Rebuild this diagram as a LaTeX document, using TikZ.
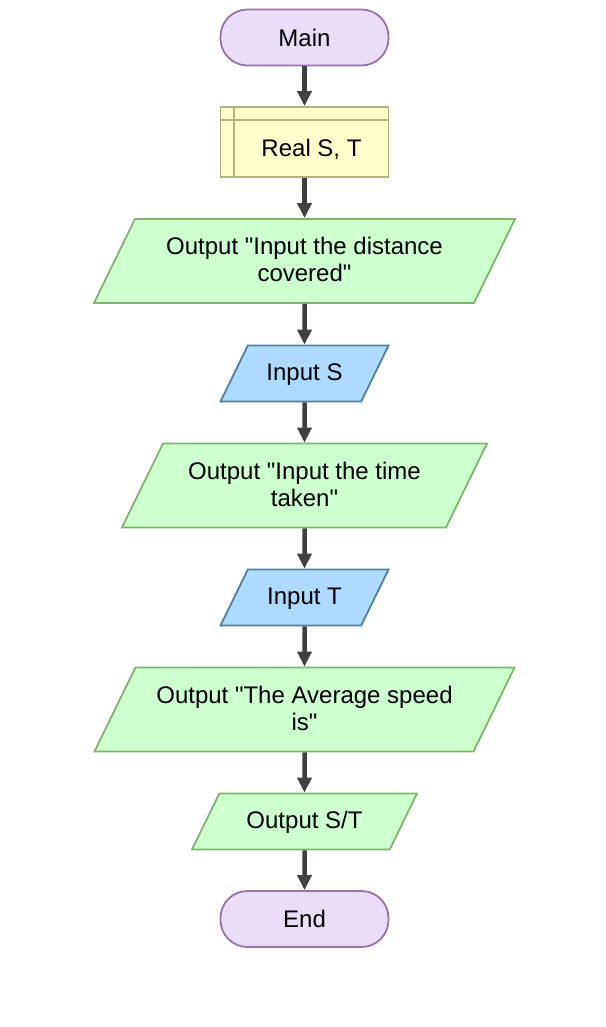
\documentclass[tikz,border=0pt]{standalone}
\usepackage{fontspec}
\setmainfont{Liberation Sans}[Ligatures=TeXOff]
\usetikzlibrary{arrows.meta,shapes.geometric}
\definecolor{termdraw}{RGB}{150,115,166}
\definecolor{termfill}{RGB}{234,221,250}
\definecolor{decldraw}{RGB}{178,178,128}
\definecolor{declfill}{RGB}{255,255,204}
\definecolor{outdraw}{RGB}{130,179,110}
\definecolor{outfill}{RGB}{206,255,206}
\definecolor{indraw}{RGB}{80,128,160}
\definecolor{infill}{RGB}{174,218,255}
\definecolor{flowcol}{RGB}{64,64,64}

\begin{document}
\begin{tikzpicture}[x=1pt, y=-1pt, >={Triangle[length=15pt, width=14pt]},
  txt/.style={font=\fontsize{24}{27}\selectfont, align=center, inner sep=0pt},
  default/.style={txt, draw, line width=1.8pt},
  term/.style={default, draw=termdraw, fill=termfill, rectangle, rounded corners=27pt, minimum width=168pt, minimum height=56pt},
  decl/.style={default, draw=decldraw, fill=declfill, rectangle, minimum width=168pt, minimum height=70pt},
  io/.style={default, trapezium, trapezium left angle=64, trapezium right angle=116, trapezium stretches body},
  oneline/.style={text height=18pt, text depth=4pt, inner ysep=17pt},
  twoline/.style={text height=45pt, text depth=4pt, inner ysep=17.5pt},
  outp/.style={io, draw=outdraw, fill=outfill},
  inp/.style={io, oneline, draw=indraw, fill=infill, minimum width=168pt},
  flow/.style={->, draw=flowcol, line width=4.5pt}]
\useasboundingbox (0,0) rectangle (605,1027);
\node[term] (Main) at (304.5, 37.5) {Main};
\node[decl] (Real) at (304.5, 142) {};
\node[txt] (RealText) at (311.5, 149) {Real S, T};
\draw[decldraw, line width=1.8pt] ([xshift=14pt]Real.north west) -- ([xshift=14pt]Real.south west);
\draw[decldraw, line width=1.8pt] ([yshift=-14pt]Real.north west) -- ([yshift=-14pt]Real.north east);
\node[outp, twoline, minimum width=421pt] (OutDist) at (304.5, 261) {Output "Input the distance\\covered"};
\node[inp] (InS) at (304.5, 373.5) {Input S};
\node[outp, twoline, minimum width=365pt] (OutTime) at (304.5, 485.5) {Output "Input the time\\taken"};
\node[inp] (InT) at (304.5, 597.5) {Input T};
\node[outp, twoline, minimum width=420pt] (OutAvg) at (304.5, 709.5) {Output "The Average speed\\is"};
\node[outp, oneline, minimum width=225pt] (OutRes) at (304.5, 821.5) {Output S/T};
\node[term] (End) at (304.5, 919) {End};
\draw [flow] (Main) -- (Real) ;
\draw [flow] (Real) -- (OutDist) ;
\draw [flow] (OutDist) -- (InS) ;
\draw [flow] (InS) -- (OutTime) ;
\draw [flow] (OutTime) -- (InT) ;
\draw [flow] (InT) -- (OutAvg) ;
\draw [flow] (OutAvg) -- (OutRes) ;
\draw [flow] (OutRes) -- (End) ;
\end{tikzpicture}
\end{document}
